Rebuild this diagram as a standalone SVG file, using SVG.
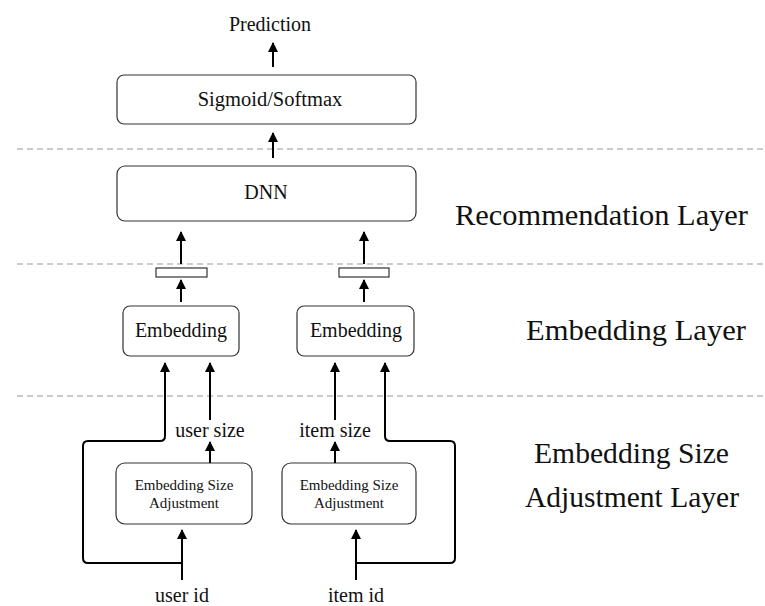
<svg xmlns="http://www.w3.org/2000/svg" width="765" height="606" viewBox="0 0 765 606">
<style>
.box{fill:#fff;stroke:#333;stroke-width:1.2}
.t{font-family:"Liberation Serif","Times New Roman",serif;fill:#111;text-anchor:middle}
.lay{font-family:"Liberation Serif","Times New Roman",serif;fill:#111;font-size:30px}
.dash{stroke:#bbb;stroke-width:1.5;stroke-dasharray:6,4;fill:none}
.c{stroke:#000;stroke-width:2;fill:none;marker-end:url(#ah)}
</style>
<defs>
<marker id="ah" viewBox="0 0 10 10" refX="9" refY="5" markerWidth="5" markerHeight="5" orient="auto" markerUnits="strokeWidth">
<path d="M0,0 L10,5 L0,10 z" fill="#000"/>
</marker>
</defs>
<rect width="765" height="606" fill="#fff"/>
<g id="layers">
<line class="dash" x1="17" y1="149" x2="765" y2="149"/>
<line class="dash" x1="17" y1="264" x2="765" y2="264"/>
<line class="dash" x1="17" y1="396" x2="765" y2="396"/>
<text class="lay" x="455" y="225" textLength="293" lengthAdjust="spacingAndGlyphs">Recommendation  Layer</text>
<text class="lay" x="526" y="340" textLength="220" lengthAdjust="spacingAndGlyphs">Embedding  Layer</text>
<text class="lay" x="534" y="463" textLength="195" lengthAdjust="spacingAndGlyphs">Embedding Size</text>
<text class="lay" x="525" y="507" textLength="214" lengthAdjust="spacingAndGlyphs">Adjustment Layer</text>
</g>
<g id="prediction"><text class="t" x="270" y="31" font-size="20">Prediction</text></g>
<g id="sigmoid"><rect class="box" x="117" y="75" width="299" height="49" rx="7"/><text class="t" x="270" y="106" font-size="20.5">Sigmoid/Softmax</text></g>
<g id="dnn"><rect class="box" x="117" y="166" width="299" height="55" rx="8"/><text class="t" x="266" y="199" font-size="20">DNN</text></g>
<g id="vec1"><rect class="box" x="156" y="268" width="51" height="9"/></g>
<g id="vec2"><rect class="box" x="339" y="268" width="50" height="9"/></g>
<g id="emb1"><rect class="box" x="123" y="306" width="116" height="50" rx="7"/><text class="t" x="181" y="337" font-size="20">Embedding</text></g>
<g id="emb2"><rect class="box" x="297" y="306" width="117" height="50" rx="7"/><text class="t" x="356" y="337" font-size="20">Embedding</text></g>
<g id="usersize"><text class="t" x="210" y="437" font-size="20">user size</text></g>
<g id="itemsize"><text class="t" x="335" y="437" font-size="20">item size</text></g>
<g id="esa1"><rect class="box" x="116" y="463" width="136" height="61" rx="9"/><text class="t" x="184" y="490" font-size="15">Embedding Size</text><text class="t" x="184" y="508" font-size="15">Adjustment</text></g>
<g id="esa2"><rect class="box" x="282" y="463" width="134" height="61" rx="9"/><text class="t" x="349" y="490" font-size="15">Embedding Size</text><text class="t" x="349" y="508" font-size="15">Adjustment</text></g>
<g id="userid"><text class="t" x="182" y="602" font-size="20">user id</text></g>
<g id="itemid"><text class="t" x="356" y="602" font-size="20">item id</text></g>
<g id="connectors">
<line class="c" x1="273" y1="67" x2="273" y2="43"/>
<line class="c" x1="273" y1="158" x2="273" y2="133"/>
<line class="c" x1="181" y1="264" x2="181" y2="232"/>
<line class="c" x1="364" y1="264" x2="364" y2="232"/>
<line class="c" x1="181" y1="302" x2="181" y2="280"/>
<line class="c" x1="364" y1="302" x2="364" y2="280"/>
<line class="c" x1="210" y1="420" x2="210" y2="363"/>
<line class="c" x1="335" y1="420" x2="335" y2="363"/>
<line class="c" x1="210" y1="463" x2="210" y2="442"/>
<line class="c" x1="335" y1="463" x2="335" y2="442"/>
<line class="c" x1="182" y1="580" x2="182" y2="530"/>
<line class="c" x1="356" y1="580" x2="356" y2="530"/>
<path class="c" d="M182,563 H88 Q83,563 83,558 V446 Q83,441 88,441 H160 Q165,441 165,436 V363"/>
<path class="c" d="M356,563 H450 Q455,563 455,558 V446 Q455,441 450,441 H390 Q385,441 385,436 V363"/>
</g>
</svg>
